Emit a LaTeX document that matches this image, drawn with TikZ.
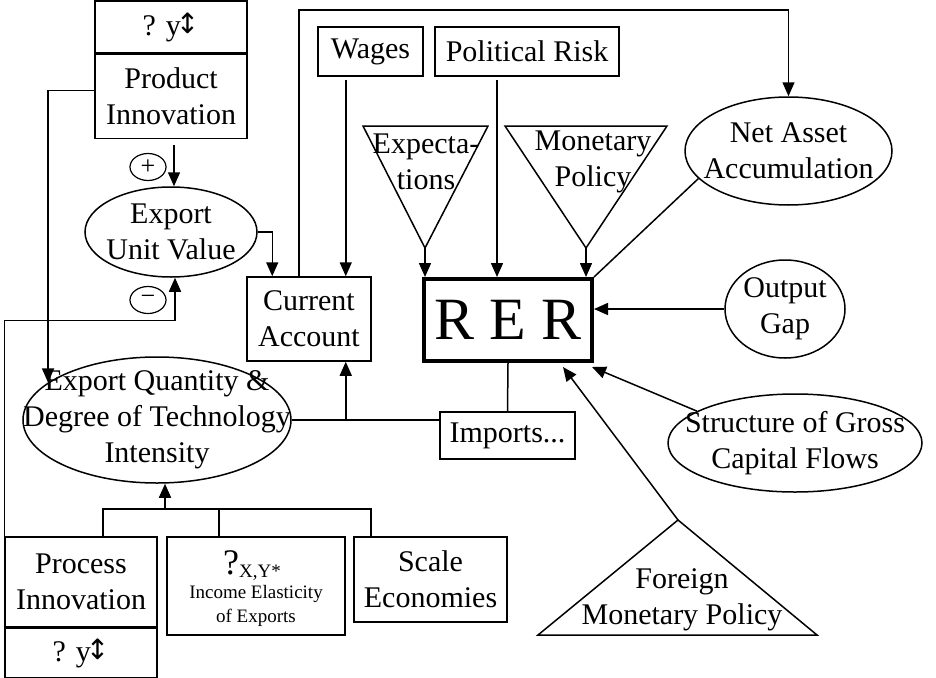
\documentclass[tikz,border=0pt]{standalone}
\usepackage{fontspec}
\setmainfont{Liberation Serif}
\newfontfamily\arrowfont{DejaVu Sans}
\usetikzlibrary{shapes.geometric, arrows.meta, positioning}

\newcommand{\dyarrow}{? y\kern-5pt{\arrowfont\fontsize{28}{28}\selectfont\raisebox{2pt}{↕}}}

\begin{document}
\begin{tikzpicture}[
    x=1pt, y=-1pt,
    every node/.style={font=\fontsize{30}{36}\selectfont},
    txt/.style={align=center},
    box/.style={rectangle, draw, line width=1.5pt, inner sep=0pt, align=center},
    oval/.style={ellipse, draw, line width=1.5pt, inner sep=0pt},
    sign/.style={ellipse, draw, line width=1.2pt, inner sep=0pt, minimum width=36pt, minimum height=27pt, font=\fontsize{26}{26}\selectfont},
    arrow/.style={-{Triangle[length=14pt,width=12pt]}, line width=1.5pt},
    link/.style={line width=1.5pt}
]
\useasboundingbox (0,0) rectangle (936,677);

% Product innovation and export unit value
\node[box, minimum width=152pt, minimum height=52pt] (prodtop) at (171,27) {\dyarrow};
\node[box, minimum width=152pt, minimum height=84pt, below=0pt of prodtop] (prod) {Product\\Innovation};
\node[sign] (plus) at (148,167) {+};
\node[oval, minimum width=172pt, minimum height=90pt, label={[txt]center:Export\\Unit Value}] (euv) at (171,232) {};
\node[sign] (minus) at (148,300) {−};

% Export quantity and its drivers
\node[oval, minimum width=268pt, minimum height=126pt, label={[txt]center:Export Quantity \&\\Degree of Technology\\Intensity}] (eq) at (157,420) {};
\node[box, minimum width=152pt, minimum height=90pt] (proc) at (81,582) {Process\\Innovation};
\node[box, minimum width=152pt, minimum height=49pt, below=0pt of proc] (procbot) {\dyarrow};
\node[box, minimum width=178pt, minimum height=98pt] (elast) at (256,586) {};
\node[anchor=base, inner sep=0pt] (elastSym) at (252,574)
    {{\fontsize{36}{36}\selectfont ?}\raisebox{-3pt}{\fontsize{19}{19}\selectfont X,Y*}};
\node[txt, anchor=base, inner sep=0pt, font=\fontsize{19}{24}\selectfont] (elastTxt) at (256,622) {Income Elasticity\\of Exports};
\node[box, minimum width=153pt, minimum height=85pt] (scale) at (430.5,579.5) {Scale\\Economies};

% Current account and RER
\node[box, minimum width=124pt, minimum height=84pt] (ca) at (309,319) {Current\\Account};
\node[box, minimum width=105pt, minimum height=49pt] (wages) at (370.5,51.5) {Wages};
\node[box, minimum width=184pt, minimum height=49pt] (polrisk) at (527,51.5) {Political Risk};
\node[box, line width=4pt, minimum width=168pt, minimum height=82pt, font=\fontsize{60}{60}\selectfont] (rer) at (508,320) {R E R};
\node[box, minimum width=135pt, minimum height=47pt] (imports) at (507.5,435.5) {Imports...};

% Right hand side
\node[oval, minimum width=207pt, minimum height=108pt, label={[txt]center:Net Asset\\Accumulation}] (nat) at (788.5,151) {};
\node[oval, minimum width=120pt, minimum height=98pt, label={[txt]center:Output\\Gap}] (og) at (785,309) {};
\node[oval, minimum width=254pt, minimum height=98pt, label={[txt]center:Structure of Gross\\Capital Flows}] (sgcf) at (795,443) {};

% Triangles
\coordinate (expTip) at (425,248);
\coordinate (monTip) at (586,248);
\coordinate (fmpTip) at (678,520);
\draw[link] (363,126) -- (488,126) -- (expTip) -- cycle;
\draw[link] (505,126) -- (667,126) -- (monTip) -- cycle;
\draw[link] (538,635) -- (817,635) -- (fmpTip) -- cycle;
\node[txt] (expLbl) at (426,162) {Expecta-\\tions};
\node[txt] (monLbl) at (593,162) {Monetary\\Policy};
\node[txt] (fmpLbl) at (682,600) {Foreign\\Monetary Policy};

% Helper points
\coordinate (caIn) at ([shift={(-26,0)}]ca.north east);
\coordinate (rerIn) at ([shift={(-11,0)}]rer.north);
\coordinate (topline) at (0,10);
\coordinate (fork) at (165,509);
\coordinate (procUp) at ([shift={(22,0)}]proc.north);
\coordinate (elastUp) at ([shift={(-37,0)}]elast.north);
\coordinate (scaleUp) at ([shift={(-59.5,0)}]scale.north);

% Arrows
\draw[arrow] ([shift={(3,6)}]prod.south) -- ([shift={(3,0)}]euv.north);
\draw[arrow] ([shift={(0,-6)}]prod.west) -| (eq.161);
\draw[arrow] (euv.east) -| ([shift={(26,0)}]ca.north west);
\draw[arrow] (proc.north west) -- ++(0,-216) -| ([shift={(4,0)}]euv.south);
\draw[arrow] ([shift={(-10,0)}]ca.north) |- (topline -| nat.north) -- (nat.north);
\draw[arrow] ([shift={(0,3)}]wages.south -| caIn) -- (caIn);
\draw[arrow] ([shift={(0,3)}]polrisk.south -| rerIn) -- (rerIn);
\draw[arrow] (expTip) -- (expTip |- rer.north);
\draw[arrow] (monTip) -- (monTip |- rer.north);
\draw[link] (nat.197) -- (rer.north east);
\draw[arrow] (og.west) -- (og.west -| rer.east);
\draw[arrow] (sgcf.162) -- ([shift={(-2,4)}]rer.south east);
\draw[arrow] (fmpTip) -- ([shift={(55,4)}]rer.south);
\draw[link] (rer.south) -- (imports.north);
\draw[link] (eq.east) -- (eq.east -| imports.west);
\draw[arrow] (caIn |- eq.east) -- (caIn |- ca.south);

% Export quantity tree
\draw[link] (procUp) |- (scaleUp |- fork) -- (scaleUp);
\draw[link] (elastUp) -- (elastUp |- fork);
\draw[arrow] (fork) -- (fork |- eq.south);

\end{tikzpicture}
\end{document}
